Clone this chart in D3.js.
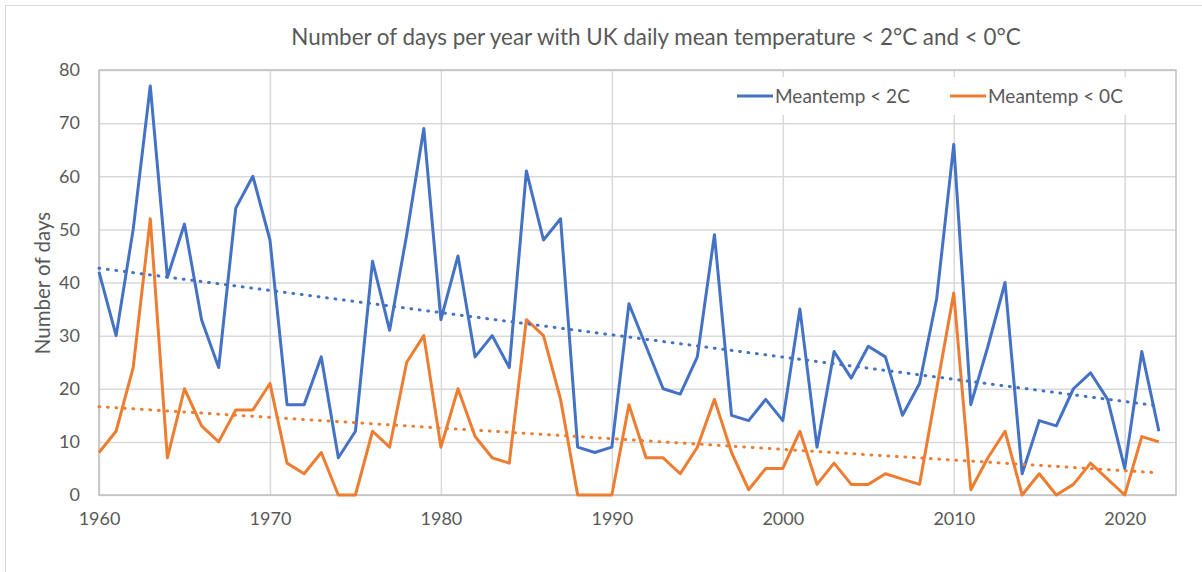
<!DOCTYPE html>
<html>
<head>
<meta charset="utf-8">
<script src="https://cdn.jsdelivr.net/npm/d3@7"></script>
<style>
  body { margin: 0; background: #fff; }
  svg { display: block; font-family: Lato, "Open Sans", sans-serif; }
</style>
</head>
<body>
<svg id="chart" width="1202" height="572"></svg>
<script>
const YEARS = d3.range(1960, 2023);
// days per year with mean temperature < 2C
const BELOW_2C = [42, 30, 50, 77, 41, 51, 33, 24, 54, 60,
                  48, 17, 17, 26, 7, 12, 44, 31, 49, 69,
                  33, 45, 26, 30, 24, 61, 48, 52, 9, 8,
                  9, 36, 28, 20, 19, 26, 49, 15, 14, 18,
                  14, 35, 9, 27, 22, 28, 26, 15, 21, 37,
                  66, 17, 28, 40, 4, 14, 13, 20, 23, 18,
                  5, 27, 12];
// days per year with mean temperature < 0C
const BELOW_0C = [8, 12, 24, 52, 7, 20, 13, 10, 16, 16,
                  21, 6, 4, 8, 0, 0, 12, 9, 25, 30,
                  9, 20, 11, 7, 6, 33, 30, 18, 0, 0,
                  0, 17, 7, 7, 4, 9, 18, 8, 1, 5,
                  5, 12, 2, 6, 2, 2, 4, 3, 2, 20,
                  38, 1, 7, 12, 0, 4, 0, 2, 6, 3,
                  0, 11, 10];
const SERIES_NAMES = ["Meantemp < 2C", "Meantemp < 0C"];
const SERIES_COLORS = ["#4472C4", "#ED7D31"];
const X_TICKS = [1960, 1970, 1980, 1990, 2000, 2010, 2020];
const Y_TICKS = [0, 10, 20, 30, 40, 50, 60, 70, 80];
const TITLE = "Number of days per year with UK daily mean temperature < 2°C and < 0°C";
const Y_TITLE = "Number of days";

const TEXT_COLOR = "#595959";
const GRID_COLOR = "#d9d9d9";

const plot = { left: 99, right: 1176, top: 70, bottom: 495 };

const svg = d3.select("#chart");

// outer chart border
svg.append("rect")
    .attr("x", 5.5).attr("y", 5.5)
    .attr("width", 1300).attr("height", 700)
    .attr("fill", "#fff")
    .attr("stroke", "#d9d9d9");

const x = d3.scaleLinear().domain([1960, 2023]).range([plot.left, plot.right]);
const y = d3.scaleLinear().domain([0, 80]).range([plot.bottom, plot.top]);

// horizontal gridlines + y labels
const yAxis = svg.append("g")
    .attr("transform", "translate(" + plot.left + ",0)")
    .call(d3.axisLeft(y).tickValues(Y_TICKS)
        .tickSize(-(plot.right - plot.left)).tickPadding(19));
yAxis.select(".domain").remove();
yAxis.selectAll(".tick line").attr("stroke", GRID_COLOR).attr("stroke-width", 1.5);
yAxis.selectAll(".tick text")
    .attr("fill", TEXT_COLOR).attr("font-size", 18).attr("font-family", "Lato, sans-serif");

// vertical gridlines + x labels
const xAxis = svg.append("g")
    .attr("transform", "translate(0," + plot.bottom + ")")
    .call(d3.axisBottom(x).tickValues(X_TICKS).tickFormat(d3.format("d"))
        .tickSize(-(plot.bottom - plot.top)).tickPadding(17));
xAxis.select(".domain").remove();
xAxis.selectAll(".tick line").attr("stroke", GRID_COLOR).attr("stroke-width", 1.5);
xAxis.selectAll(".tick text")
    .attr("fill", TEXT_COLOR).attr("font-size", 18).attr("font-family", "Lato, sans-serif");

// plot area frame
svg.append("rect")
    .attr("x", plot.left).attr("y", plot.top)
    .attr("width", plot.right - plot.left).attr("height", plot.bottom - plot.top)
    .attr("fill", "none")
    .attr("stroke", "#bfbfbf").attr("stroke-width", 1.5);

const seriesData = [BELOW_2C, BELOW_0C].map(function (vals, i) {
    return {
        name: SERIES_NAMES[i],
        color: SERIES_COLORS[i],
        points: YEARS.map(function (yr, j) { return { year: yr, value: vals[j] }; })
    };
});

// least squares trend for each series
function trend(points) {
    const mx = d3.mean(points, d => d.year), my = d3.mean(points, d => d.value);
    let num = 0, den = 0;
    points.forEach(function (p) {
        num += (p.year - mx) * (p.value - my);
        den += (p.year - mx) * (p.year - mx);
    });
    const slope = num / den;
    const first = points[0].year, last = points[points.length - 1].year;
    return [
        { year: first, value: my + slope * (first - mx) },
        { year: last, value: my + slope * (last - mx) }
    ];
}

const line = d3.line().x(d => x(d.year)).y(d => y(d.value));

seriesData.forEach(function (s) {
    svg.append("path")
        .datum(s.points)
        .attr("d", line)
        .attr("fill", "none")
        .attr("stroke", s.color)
        .attr("stroke-width", 3)
        .attr("stroke-linejoin", "round");
});

seriesData.forEach(function (s) {
    svg.append("path")
        .datum(trend(s.points))
        .attr("d", line)
        .attr("fill", "none")
        .attr("stroke", s.color)
        .attr("stroke-width", 3)
        .attr("stroke-linecap", "round")
        .attr("stroke-dasharray", "0.8,7.7");
});

// legend
svg.append("rect")
    .attr("x", 730).attr("y", 77)
    .attr("width", 420).attr("height", 38)
    .attr("fill", "#fff");

const legendX = [737, 950];
const legend = svg.selectAll(".legend")
    .data(seriesData)
    .enter().append("g")
    .attr("class", "legend")
    .attr("transform", (d, i) => "translate(" + legendX[i] + ",96)");
legend.append("line")
    .attr("x1", 0).attr("x2", 36)
    .attr("stroke", d => d.color)
    .attr("stroke-width", 3);
legend.append("text")
    .attr("x", 38).attr("dy", "0.35em")
    .attr("fill", TEXT_COLOR)
    .attr("font-size", 19)
    .text(d => d.name);

// title
svg.append("text")
    .attr("x", 656).attr("y", 45)
    .attr("text-anchor", "middle")
    .attr("fill", TEXT_COLOR)
    .attr("font-size", 22.4)
    .text(TITLE);

// y axis title
svg.append("text")
    .attr("transform", "translate(50,283) rotate(-90)")
    .attr("text-anchor", "middle")
    .attr("fill", TEXT_COLOR)
    .attr("font-size", 20.5)
    .text(Y_TITLE);
</script>
</body>
</html>
